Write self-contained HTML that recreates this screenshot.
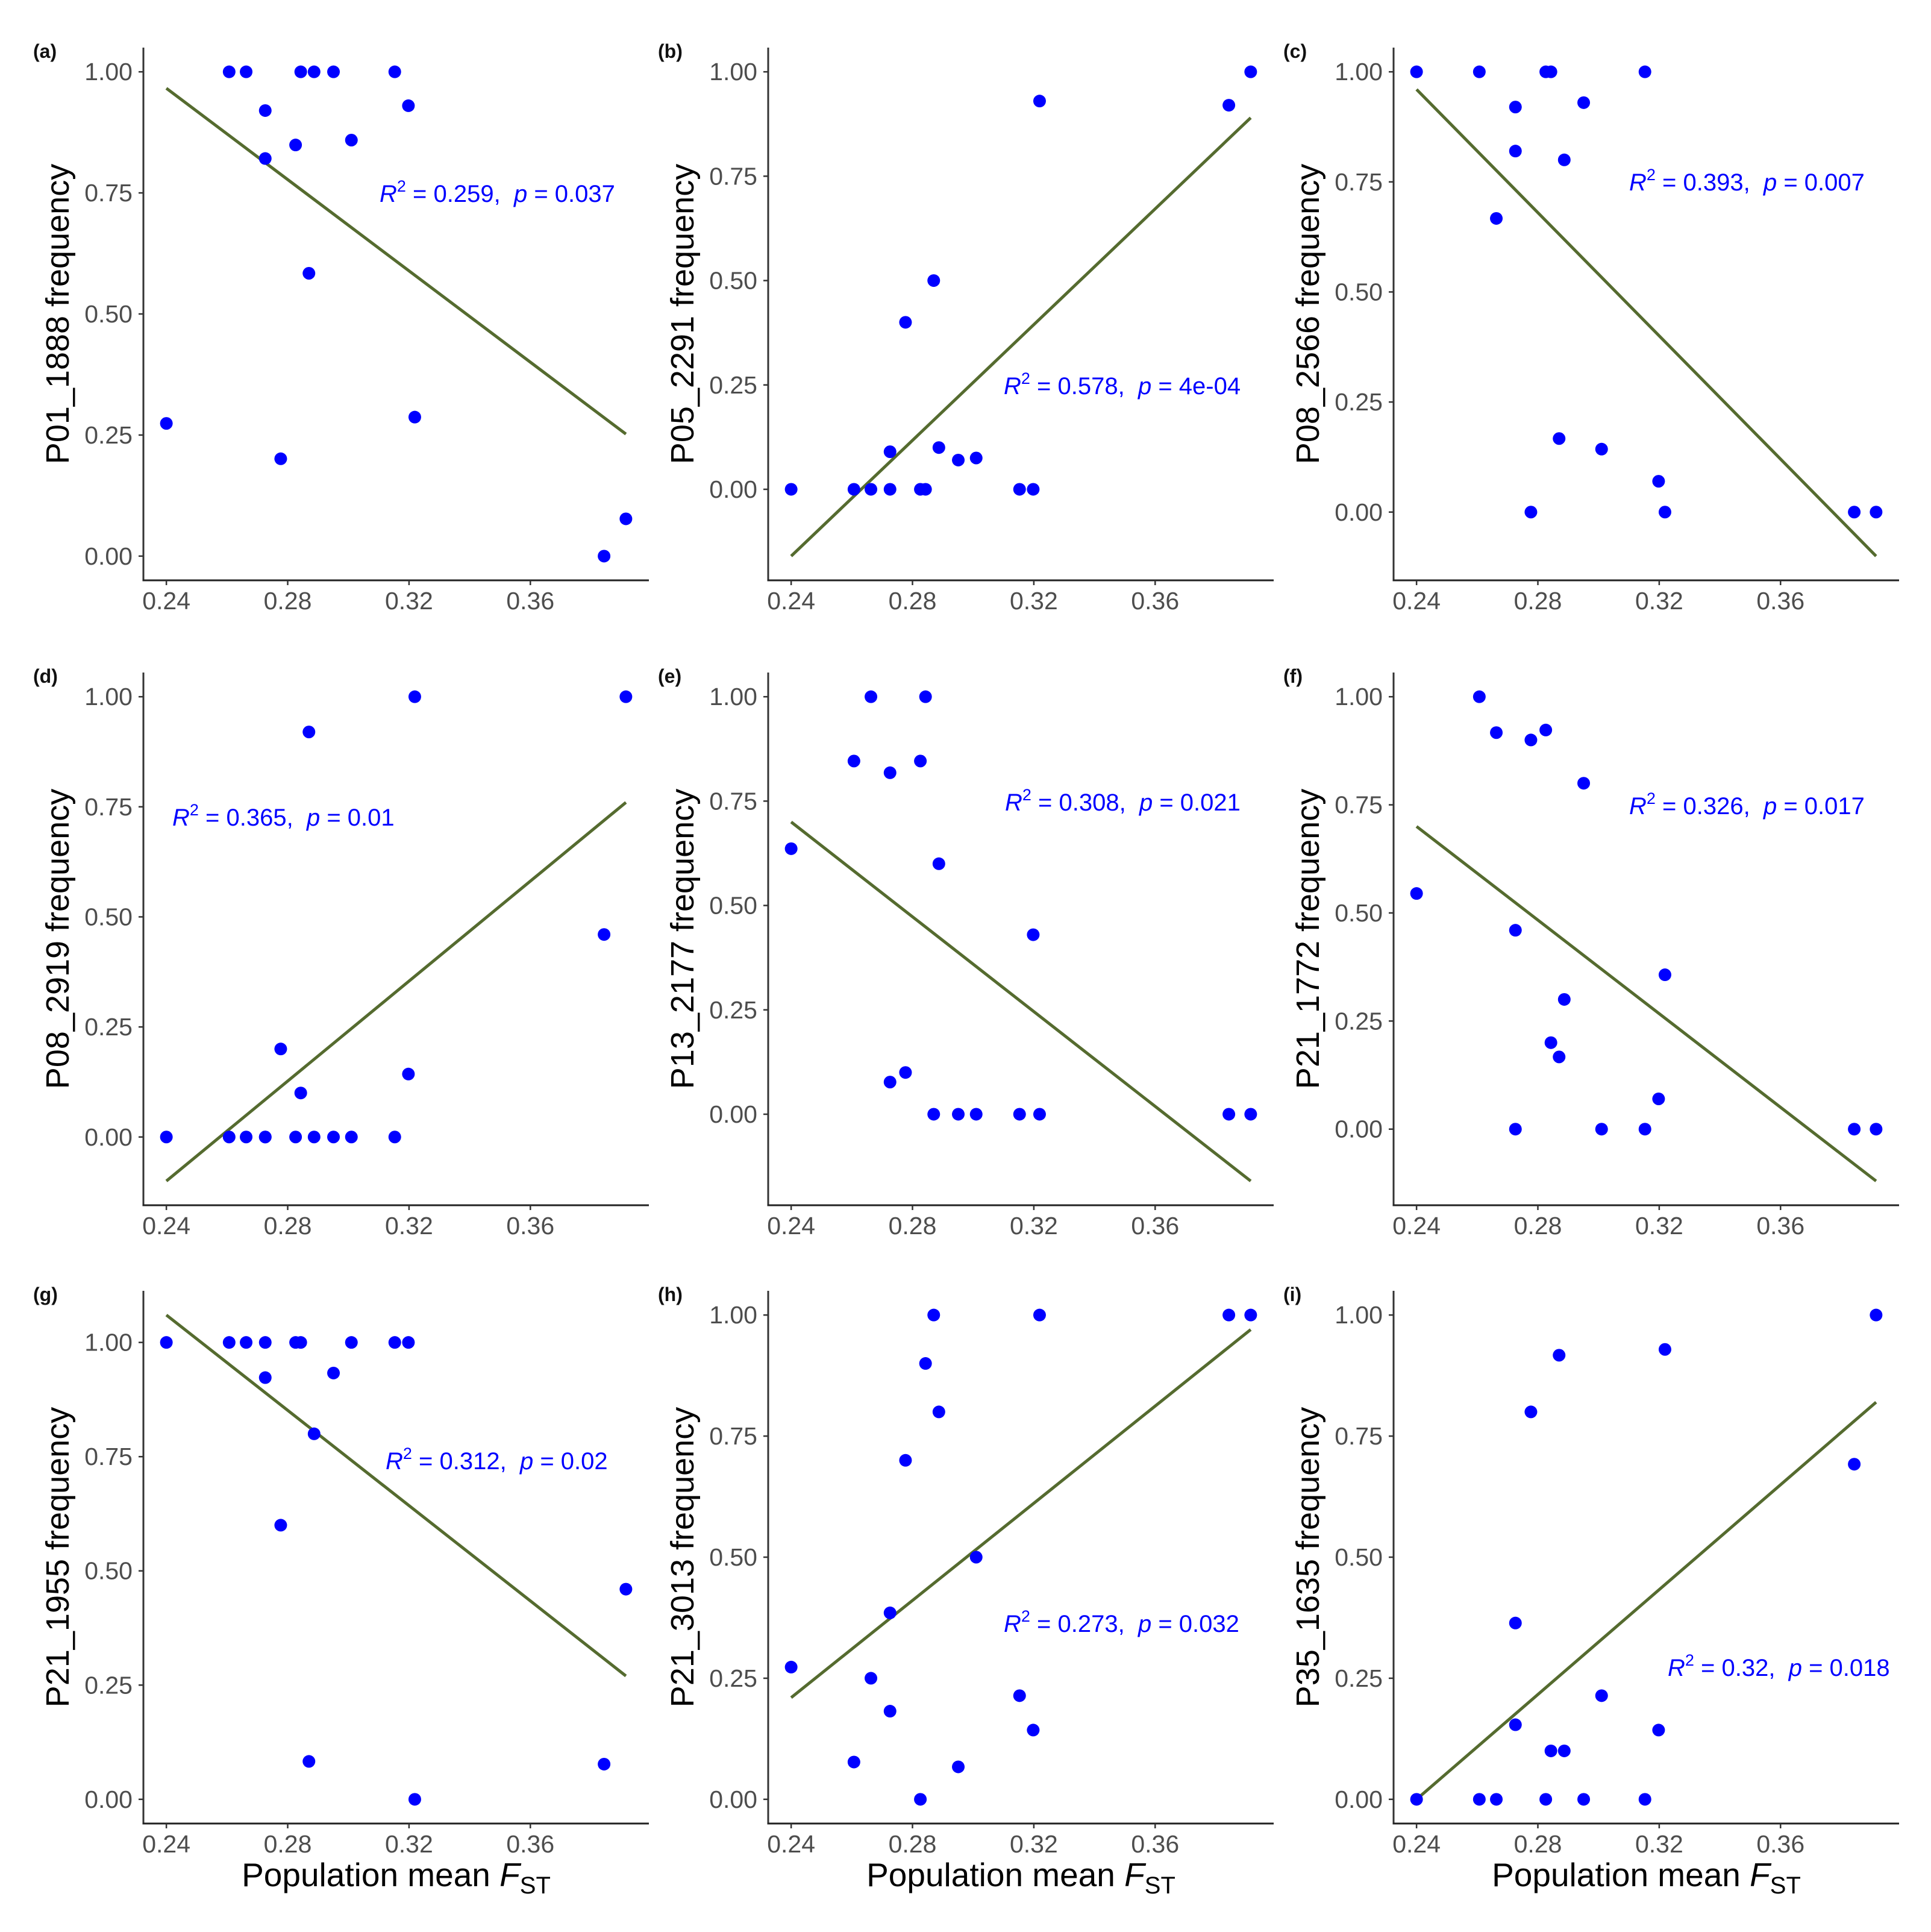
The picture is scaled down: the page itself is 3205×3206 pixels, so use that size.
<!DOCTYPE html>
<html><head><meta charset="utf-8"><style>
html,body{margin:0;padding:0;background:#fff;}
svg{display:block;}
text{font-family:"Liberation Sans",Arial,sans-serif;white-space:pre;}
</style></head><body>
<svg id="fig" xmlns="http://www.w3.org/2000/svg" width="3205" height="3206" viewBox="0 0 3205 3206"></svg>
<script>
// shared x values (population mean FST)
const xVals = [0.240,0.2607,0.2663,0.2726,0.2726,0.2777,0.2826,0.2843,0.2870,0.2887,0.2951,0.3010,0.3153,0.3198,0.3219,0.3843,0.3915];
const yA = [0.274,1,1,0.92,0.821,0.201,0.849,1,0.584,1,1,0.859,1,0.930,0.287,0,0.077];
const yB = [0,0,0,0.09,0,0.40,0,0,0.50,0.10,0.07,0.075,0,0,0.93,0.92,1];
const yC = [1,1,0.667,0.92,0.82,0,1,1,0.167,0.80,0.93,0.143,1,0.07,0,0,0];
const yD = [0,0,0,0,0,0.20,0,0.10,0.92,0,0,0,0,0.143,1,0.46,1];
const yE = [0.636,0.846,1,0.818,0.077,0.10,0.846,1,0,0.60,0,0,0,0.43,0,0,0];
const yF = [0.545,1,0.917,0.46,0,0.90,0.923,0.20,0.167,0.30,0.80,0,0,0.07,0.357,0,0];
const yG = [1,1,1,1,0.923,0.60,1,1,0.083,0.80,0.933,1,1,1,0,0.077,0.46];
const yH = [0.273,0.077,0.25,0.385,0.182,0.70,0,0.90,1,0.80,0.067,0.50,0.214,0.143,1,1,1];
const yI = [0,0,0,0.364,0.154,0.80,0,0.10,0.917,0.10,0,0.214,0,0.143,0.929,0.692,1];
// regression line endpoints [y at x=0.240, y at x=0.3915]
const lineX = [0.240,0.3915];
const lineA = [0.966,0.252];
const lineB = [-0.16,0.89];
const lineC = [0.96,-0.10];
const lineD = [-0.10,0.76];
const lineE = [0.70,-0.16];
const lineF = [0.70,-0.12];
const lineG = [1.06,0.27];
const lineH = [0.21,0.97];
const lineI = [0.00,0.82];
const yLabels = ["P01_1888","P05_2291","P08_2566","P08_2919","P13_2177","P21_1772","P21_1955","P21_3013","P35_1635"];
const r2Labels = ["0.259","0.578","0.393","0.365","0.308","0.326","0.312","0.273","0.32"];
const pLabels = ["0.037","4e-04","0.007","0.01","0.021","0.017","0.02","0.032","0.018"];
const panelTags = ["(a)","(b)","(c)","(d)","(e)","(f)","(g)","(h)","(i)"];
const yTicks = [0,0.25,0.5,0.75,1];
const yTickLabels = ["0.00","0.25","0.50","0.75","1.00"];
const xTicks = [0.24,0.28,0.32,0.36];
const xTickLabels = ["0.24","0.28","0.32","0.36"];

const NS = "http://www.w3.org/2000/svg";
const svg = document.getElementById('fig');
function mk(tag, attrs, parent){ const e=document.createElementNS(NS,tag); for(const k in attrs) e.setAttribute(k,attrs[k]); (parent||svg).appendChild(e); return e; }

const ys = [yA,yB,yC,yD,yE,yF,yG,yH,yI];
const lines = [lineA,lineB,lineC,lineD,lineE,lineF,lineG,lineH,lineI];
const colOff = [0,1037,2075];
const rowTop = [79,1116,2142];
const annPos = [[630,321],[629,640],[629,302],[286,1356],[631,1331],[629,1337],[640,2424],[629,2694],[693,2767]];
const W = 839, H = 884, L0 = 238;

for (let p=0;p<9;p++){
  const col=p%3, row=Math.floor(p/3);
  const L = L0+colOff[col], T=rowTop[row], R=L+W, B=T+H;
  const g = mk('g',{});
  
  
  const data = ys[p], ln = lines[p];
  let xmin=Math.min(...xVals,...lineX), xmax=Math.max(...xVals,...lineX);
  let ymin=Math.min(...data,...ln), ymax=Math.max(...data,...ln);
  const xp=(xmax-xmin)*0.05, yp=(ymax-ymin)*0.05;
  xmin-=xp; xmax+=xp; ymin-=yp; ymax+=yp;
  const sx = v => L + (v-xmin)/(xmax-xmin)*W;
  const sy = v => B - (v-ymin)/(ymax-ymin)*H;

  const tag = mk('text',{x:L-183,y:T+17,'font-size':32,'font-weight':'bold',fill:'#111'},g);
  tag.textContent = panelTags[p];
  
  

  const ya = mk('line',{x1:L,y1:T,x2:L,y2:B+1.5,stroke:'#333','stroke-width':3},g);
  
  
  const xa = mk('line',{x1:L-1.5,y1:B,x2:R,y2:B,stroke:'#222','stroke-width':3},g);
  
  

  yTicks.forEach((t,i)=>{
    const y=sy(t);
    mk('line',{x1:L-8,y1:y,x2:L,y2:y,stroke:'#333','stroke-width':2.5},g);
    const tl = mk('text',{x:L-18,y:y+14,'font-size':41,fill:'#4d4d4d','text-anchor':'end'},g);
    tl.textContent = yTickLabels[i];
    
    
  });
  xTicks.forEach((t,i)=>{
    const x=sx(t);
    mk('line',{x1:x,y1:B,x2:x,y2:B+8,stroke:'#333','stroke-width':2.5},g);
    const tl = mk('text',{x:x,y:B+48,'font-size':41,fill:'#4d4d4d','text-anchor':'middle'},g);
    tl.textContent = xTickLabels[i];
    
    
  });

  const cy=(T+B)/2, cx=L-124;
  const yt = mk('text',{x:cx,y:cy,'font-size':54,fill:'#000','text-anchor':'middle',transform:`rotate(-90 ${cx} ${cy})`},g);
  yt.textContent = yLabels[p]+' frequency';
  
  

  if(row===2){
    const xt = mk('text',{x:(L+R)/2,y:B+104,'font-size':55,fill:'#000','text-anchor':'middle'},g);
    
    
    const t1=mk('tspan',{},xt); t1.textContent='Population mean ';
    const t2=mk('tspan',{'font-style':'italic'},xt); t2.textContent='F';
    const t3=mk('tspan',{'font-size':40,dy:12},xt); t3.textContent='ST';
  }

  const rl = mk('line',{x1:sx(lineX[0]),y1:sy(ln[0]),x2:sx(lineX[1]),y2:sy(ln[1]),stroke:'#556B2F','stroke-width':5},g);
  
  

  xVals.forEach((xv,i)=>{
    const c = mk('circle',{cx:sx(xv),cy:sy(data[i]),r:10.5,fill:'#0000FF'},g);
    
    
  });

  const [ax,ay]=annPos[p];
  const an = mk('text',{x:ax+colOff[col],y:ay+14,'font-size':40,fill:'#0000FF'},g);
  
  
  const a1=mk('tspan',{'font-style':'italic'},an); a1.textContent='R';
  const a2=mk('tspan',{'font-size':27,dy:-17},an); a2.textContent='2';
  const a3=mk('tspan',{dy:17},an); a3.textContent=' = '+r2Labels[p]+',\u00a0\u00a0';
  const a4=mk('tspan',{'font-style':'italic'},an); a4.textContent='p';
  const a5=mk('tspan',{},an); a5.textContent=' = '+pLabels[p];
}
</script>
</body></html>
